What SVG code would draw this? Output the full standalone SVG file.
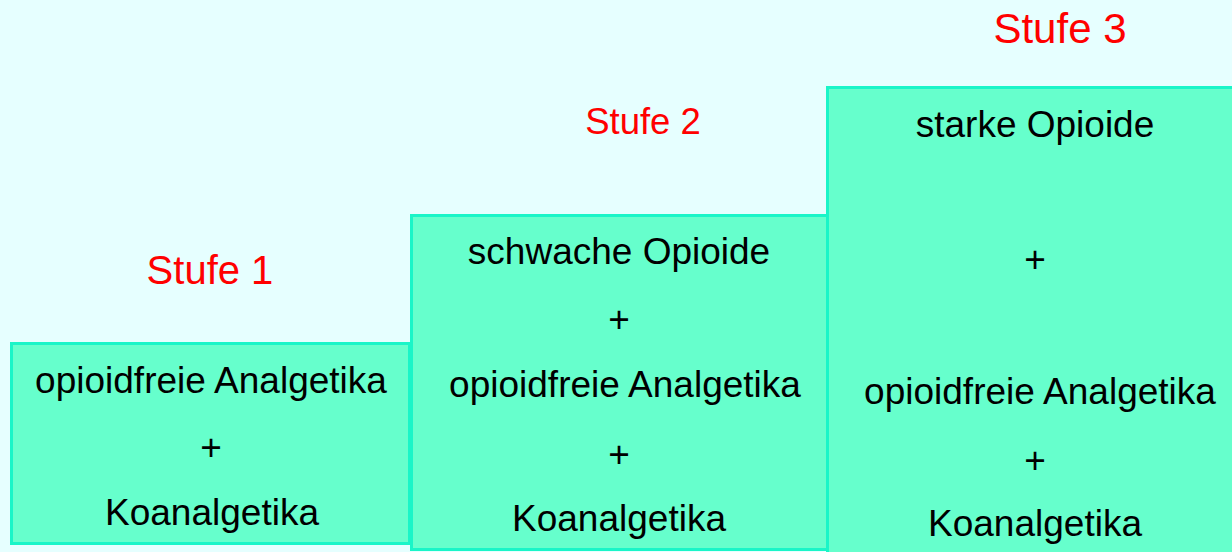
<svg xmlns="http://www.w3.org/2000/svg" width="1232" height="552" viewBox="0 0 1232 552">
<style>
.box{fill:#66FFCC;stroke:#1AF5C8;stroke-width:3}
.t{font-family:"Liberation Sans",Arial,sans-serif;font-size:37px;fill:#000;text-anchor:middle}
.s{font-family:"Liberation Sans",Arial,sans-serif;fill:#FF0000;text-anchor:middle}
</style>
<rect x="0" y="0" width="1232" height="552" fill="#E6FFFF"/>
<g id="stufe1">
<rect class="box" x="11.5" y="343.5" width="398" height="200"/>
<text class="t" x="211" y="393">opioidfreie Analgetika</text>
<text class="t" x="211" y="460">+</text>
<text class="t" x="212" y="525">Koanalgetika</text>
</g>
<g id="stufe2">
<rect class="box" x="411.5" y="215.5" width="416" height="334"/>
<text class="t" x="619" y="264">schwache Opioide</text>
<text class="t" x="619" y="332">+</text>
<text class="t" x="625" y="397">opioidfreie Analgetika</text>
<text class="t" x="619" y="467">+</text>
<text class="t" x="619" y="531">Koanalgetika</text>
</g>
<g id="stufe3">
<rect class="box" x="827.5" y="87.5" width="420" height="480"/>
<text class="t" x="1035" y="137">starke Opioide</text>
<text class="t" x="1035" y="272">+</text>
<text class="t" x="1040" y="404">opioidfreie Analgetika</text>
<text class="t" x="1035" y="473">+</text>
<text class="t" x="1035" y="536">Koanalgetika</text>
</g>
<g id="labels">
<text class="s" x="210" y="284" font-size="40">Stufe 1</text>
<text class="s" x="643" y="134" font-size="36.5">Stufe 2</text>
<text class="s" x="1060" y="43" font-size="42">Stufe 3</text>
</g>
</svg>
